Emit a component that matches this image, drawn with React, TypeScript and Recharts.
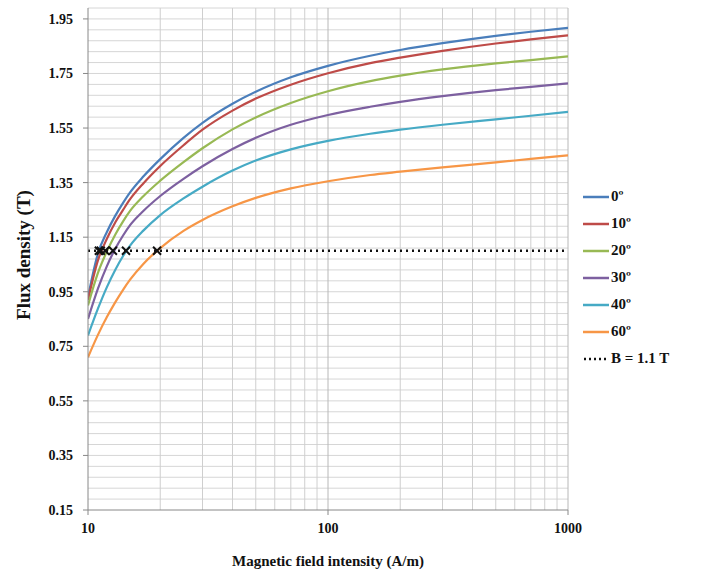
import { LineChart, Line, XAxis, YAxis, ReferenceLine } from "recharts";

// field intensity samples (A/m)
const fieldH = [10, 11, 12, 13, 14, 15, 17, 20, 25, 30, 40, 50, 70, 100, 150, 200, 300, 500, 700, 1000];

// flux density (T) for each angle
const b0 = [0.93, 1.09, 1.17, 1.229, 1.276, 1.315, 1.372, 1.436, 1.514, 1.569, 1.639, 1.683, 1.736, 1.778, 1.815, 1.836, 1.861, 1.888, 1.903, 1.917];
const b10 = [0.92, 1.065, 1.145, 1.205, 1.25, 1.29, 1.347, 1.411, 1.487, 1.544, 1.614, 1.658, 1.709, 1.751, 1.788, 1.808, 1.833, 1.86, 1.875, 1.89];
const b20 = [0.9, 1.019, 1.099, 1.16, 1.208, 1.247, 1.3, 1.357, 1.425, 1.476, 1.545, 1.589, 1.642, 1.685, 1.722, 1.742, 1.765, 1.787, 1.799, 1.813];
const b30 = [0.85, 0.961, 1.045, 1.108, 1.156, 1.195, 1.246, 1.301, 1.364, 1.41, 1.473, 1.514, 1.562, 1.598, 1.628, 1.646, 1.667, 1.689, 1.701, 1.714];
const b40 = [0.79, 0.888, 0.968, 1.031, 1.081, 1.12, 1.174, 1.231, 1.292, 1.335, 1.394, 1.431, 1.472, 1.503, 1.529, 1.544, 1.562, 1.582, 1.595, 1.609];
const b60 = [0.71, 0.792, 0.858, 0.912, 0.957, 0.995, 1.052, 1.11, 1.173, 1.213, 1.263, 1.294, 1.329, 1.355, 1.378, 1.39, 1.406, 1.424, 1.437, 1.45];

// where each curve crosses B = 1.1 T
const crossH = [11.1, 11.3, 11.8, 12.7, 14.4, 19.4];
const bLevel = 1.1;

const yTicks = [0.15, 0.35, 0.55, 0.75, 0.95, 1.15, 1.35, 1.55, 1.75, 1.95];
const xTicks = [10, 100, 1000];
const xGrid = [20, 30, 40, 50, 60, 70, 80, 90, 100, 200, 300, 400, 500, 600, 700, 800, 900, 1000];

const series = [
  { key: "a0", name: "0º", color: "#4A7EBB", values: b0 },
  { key: "a10", name: "10º", color: "#BE4B48", values: b10 },
  { key: "a20", name: "20º", color: "#98B954", values: b20 },
  { key: "a30", name: "30º", color: "#7D60A0", values: b30 },
  { key: "a40", name: "40º", color: "#46AAC5", values: b40 },
  { key: "a60", name: "60º", color: "#F79646", values: b60 },
];

const data = fieldH.map((h, i) => {
  const row: Record<string, number> = { h };
  series.forEach((s) => (row[s.key] = s.values[i]));
  return row;
});

const levelData = [10, ...crossH, 1000].map((h) => ({ h, b: bLevel }));

// minor horizontal grid every 0.04 T
const yGrid: number[] = [];
for (let i = 1; i <= 46; i++) yGrid.push(Math.round((0.15 + i * 0.04) * 100) / 100);

const font = "'Liberation Serif', 'Times New Roman', serif";

const CrossDot = (props: any) => {
  const { cx, cy, index } = props;
  if (index === 0 || index === levelData.length - 1) return <g key={`c${index}`} />;
  const r = 4;
  return (
    <path
      key={`c${index}`}
      d={`M${cx - r},${cy - r}L${cx + r},${cy + r}M${cx - r},${cy + r}L${cx + r},${cy - r}`}
      stroke="#111"
      strokeWidth={2}
    />
  );
};

const LegendBox = () => (
  <div
    style={{
      position: "absolute",
      left: 583,
      top: 183,
      fontFamily: font,
      fontWeight: "bold",
      fontSize: 15,
      color: "#111",
    }}
  >
    {series.map((s) => (
      <div key={s.key} style={{ display: "flex", alignItems: "center", height: 27 }}>
        <svg width={26} height={6} style={{ marginRight: 2 }}>
          <line x1={0} y1={3} x2={26} y2={3} stroke={s.color} strokeWidth={2.5} />
        </svg>
        {s.name}
      </div>
    ))}
    <div style={{ display: "flex", alignItems: "center", height: 27 }}>
      <svg width={26} height={6} style={{ marginRight: 2 }}>
        <line x1={1} y1={3} x2={26} y2={3} stroke="#111" strokeWidth={2.5} strokeDasharray="2 3" />
      </svg>
      B = 1.1 T
    </div>
  </div>
);

export default function App() {
  return (
    <div style={{ position: "relative", width: 723, height: 576, background: "#fff" }}>
      <style>{`body{margin:0}`}</style>
      <LineChart
        width={723}
        height={576}
        data={data}
        margin={{ top: 8, right: 155, bottom: 0, left: 0 }}
      >
        <XAxis
          dataKey="h"
          type="number"
          scale="log"
          domain={[10, 1000]}
          ticks={xTicks}
          allowDataOverflow
          height={66}
          axisLine={{ stroke: "#888" }}
          tickLine={{ stroke: "#888" }}
          tickSize={5}
          tick={{ fontFamily: font, fontWeight: "bold", fontSize: 14, fill: "#111" }}
          tickMargin={8}
          label={{
            content: () => (
              <text x={328} y={566} textAnchor="middle" fontFamily={font} fontWeight="bold" fontSize={15} fill="#111">
                Magnetic field intensity (A/m)
              </text>
            ),
          }}
        />
        <YAxis
          type="number"
          domain={[0.15, 1.99]}
          ticks={yTicks}
          allowDataOverflow
          width={88}
          axisLine={{ stroke: "#888" }}
          tickLine={{ stroke: "#888" }}
          tickSize={5}
          tickMargin={10}
          tickFormatter={(v: number) => v.toFixed(2)}
          tick={{ fontFamily: font, fontWeight: "bold", fontSize: 14, fill: "#111" }}
          label={{
            content: () => (
              <text
                x={0}
                y={0}
                transform="translate(30,255) rotate(-90)"
                textAnchor="middle"
                fontFamily={font}
                fontWeight="bold"
                fontSize={19}
                fill="#111"
              >
                Flux density (T)
              </text>
            ),
          }}
        />
        {yGrid.map((v) => (
          <ReferenceLine key={`y${v}`} y={v} stroke="#d6d6d6" strokeWidth={1} />
        ))}
        {xGrid.map((v) => (
          <ReferenceLine key={`x${v}`} x={v} stroke={v === 100 || v === 1000 ? "#b8b8b8" : "#cfcfcf"} strokeWidth={1} />
        ))}
        {series.map((s) => (
          <Line
            key={s.key}
            dataKey={s.key}
            name={s.name}
            type="monotone"
            stroke={s.color}
            strokeWidth={2.2}
            dot={false}
            isAnimationActive={false}
          />
        ))}
        <Line
          data={levelData}
          dataKey="b"
          name="B = 1.1 T"
          type="linear"
          stroke="#111"
          strokeWidth={2.5}
          strokeDasharray="2 4"
          dot={CrossDot}
          activeDot={false}
          isAnimationActive={false}
        />
      </LineChart>
      <LegendBox />
    </div>
  );
}
